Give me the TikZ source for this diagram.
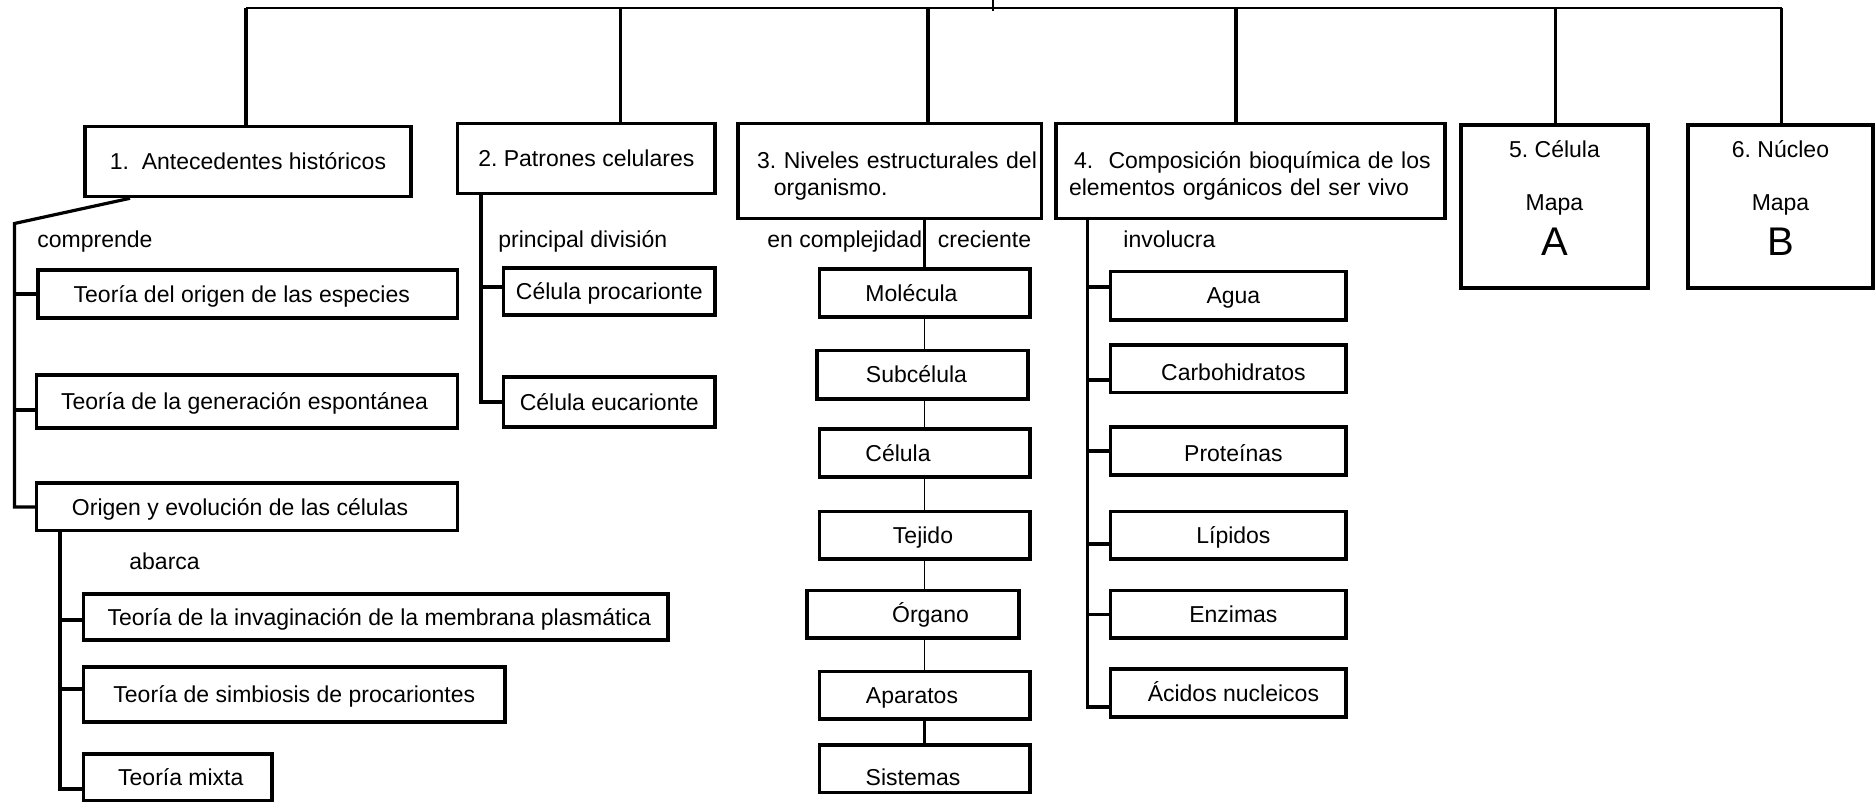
\documentclass[tikz,border=0pt]{standalone}
\usepackage{fontspec}
\setmainfont{Liberation Sans}
\frenchspacing
\newcommand\dfont{\fontsize{11.5pt}{13.5pt}\selectfont}
\newcommand\bigletter{\fontsize{20pt}{22pt}\selectfont}
\begin{document}
\begin{tikzpicture}[x=0.5pt,y=-0.5pt,
  box/.style={draw, line width=1.6pt, inner sep=0pt, font=\dfont, text height=8.2pt, text depth=0pt},
  twoline/.style={draw, line width=1.6pt, inner sep=0pt, font=\dfont, align=left},
  wh/.style 2 args={minimum width=#1*0.5pt, minimum height=#2*0.5pt},
  lbl/.style={inner sep=0pt, anchor=base west, font=\dfont},
  ctr/.style={inner sep=0pt, anchor=base, font=\dfont},
  trunk/.style={line width=1.6pt},
  twig/.style={line width=0.6pt},
  rail/.style={line width=0.7pt}]

\fill[white] (0,0) rectangle (1875,802);
\useasboundingbox (0,0) rectangle (1875,802);

% ---- main topics ----
\node[box, wh={326}{70}] (hist) at (248,161.7) {1.\ \ Antecedentes históricos};
\node[box, wh={257.4}{70}] (patr) at (586.3,158.3) {2. Patrones celulares};
\node[twoline, text width=151.75pt, minimum height=47.5pt] (nivel) at (889.75,170.8)
  {\rule{0pt}{13.6pt}\hspace*{9.5pt}3. Niveles estructurales del\\\hspace*{17.9pt}organismo.};
\node[twoline, text width=194.5pt, minimum height=47.5pt] (comp) at (1250.5,170.8)
  {\rule{0pt}{13.6pt}\hspace*{9pt}4.\ \ Composición bioquímica de los\\\hspace*{6.5pt}elementos orgánicos del ser vivo};
\node[draw, line width=1.6pt, inner sep=0pt, wh={187}{163}] (cel) at (1554.5,206.5) {};
\node[draw, line width=1.6pt, inner sep=0pt, wh={185}{163}] (nuc) at (1780.5,206.5) {};

\node[ctr] (celT) at (1554.5,158) {5. Célula};
\node[ctr] (celM) at (1554.5,211) {Mapa};
\node[ctr, font=\bigletter] (celL) at (1554.5,256) {A};
\node[ctr] (nucT) at (1780.5,158) {6. Núcleo};
\node[ctr] (nucM) at (1780.5,211) {Mapa};
\node[ctr, font=\bigletter] (nucL) at (1780.5,256) {B};

% ---- top rail ----
\coordinate (t1) at (246,8);
\coordinate (t2) at (620.5,8);
\coordinate (t3) at (928,8);
\coordinate (t4) at (1236,8);
\coordinate (t5) at (1555.6,8);
\coordinate (t6) at (1781.5,8);
\coordinate (rootA) at (993,0);
\coordinate (rootB) at (993,11);
\draw[rail] (t1) -- (t6);
\draw[rail] (rootA) -- (rootB);
\foreach \t/\b in {t1/hist,t2/patr,t3/nivel,t4/comp,t5/cel,t6/nuc}
  \draw[trunk] (\t) -- (\t |- \b.north);

% ---- 1. historical background ----
\node[lbl] (lcomp) at (37,247.5) {comprende};
\node[box, wh={419.6}{48}] (esp) at (247.8,294) {\hspace*{-6pt}Teoría del origen de las especies};
\node[box, wh={421}{53}] (gen) at (247.1,401.5) {\hspace*{-2.5pt}Teoría de la generación espontánea};
\node[box, wh={421}{47.7}] (orig) at (247.1,506.9) {\hspace*{-7pt}Origen y evolución de las células};
\node[lbl] (labr) at (129,569.5) {abarca};
\node[box, wh={584.5}{46}] (inv) at (375.8,617) {\hspace*{3.5pt}Teoría de la invaginación de la membrana plasmática};
\node[box, wh={421.5}{55}] (simb) at (294.3,694.5) {Teoría de simbiosis de procariontes};
\node[box, wh={188.5}{47}] (mixta) at (177.8,777.5) {\hspace*{3pt}Teoría mixta};

\coordinate (k1) at (14.5,223.5);
\draw[trunk] ([xshift=-59pt]hist.south) -- (k1) -- (k1 |- orig.west) -- (orig.west);
\draw[trunk] (k1 |- esp.west) -- (esp.west);
\draw[trunk] ([yshift=-4.25pt]gen.west -| k1) -- ([yshift=-4.25pt]gen.west);

\coordinate (k2) at (60,600);
\draw[trunk] (orig.south -| k2) -- ([yshift=-5.75pt]mixta.west -| k2) -- ([yshift=-5.75pt]mixta.west);
\draw[trunk] ([yshift=-1.5pt]inv.west -| k2) -- ([yshift=-1.5pt]inv.west);
\draw[trunk] ([yshift=2.75pt]simb.west -| k2) -- ([yshift=2.75pt]simb.west);

% ---- 2. cell patterns ----
\node[lbl] (ldiv) at (498,247.5) {principal división};
\node[box, wh={211.4}{47}] (proc) at (609.3,291.5) {Célula procarionte};
\node[box, wh={211.4}{50}] (euc) at (609.3,402) {Célula eucarionte};
\coordinate (k3) at (481,300);
\draw[trunk] (patr.south -| k3) -- (k3 |- euc.west) -- (euc.west);
\draw[trunk] ([yshift=2.25pt]proc.west -| k3) -- ([yshift=2.25pt]proc.west);

% ---- 3. structural levels ----
\node[lbl] (lcre) at (767,247.5) {en complejidad\hspace{7.9pt}creciente};
\node[box, wh={210.4}{48}] (mol) at (924.8,293) {\hspace*{-13.3pt}Molécula};
\node[box, wh={211}{48.3}] (subc) at (922.5,374.8) {\hspace*{-6pt}Subcélula};
\node[box, wh={210.4}{48}] (celu) at (924.8,453) {\hspace*{-26.8pt}Célula};
\node[box, wh={210.4}{47.3}] (tej) at (924.8,535.3) {\hspace*{-1.8pt}Tejido};
\node[box, wh={212}{47.3}] (org) at (913,614.3) {\hspace*{17.5pt}Órgano};
\node[box, wh={210.4}{47.3}] (apar) at (924.8,695.3) {\hspace*{-12.8pt}Aparatos};
\node[box, wh={210.4}{47.7}] (sist) at (924.8,768.8) {\hspace*{-11.8pt}\raisebox{-4.35pt}{Sistemas}};
\coordinate (k4) at (924.5,240);
\draw[trunk] (nivel.south -| k4) -- (mol.north -| k4);
\draw[twig] (mol.south -| k4) -- (subc.north -| k4);
\draw[twig] (subc.south -| k4) -- (celu.north -| k4);
\draw[twig] (celu.south -| k4) -- (tej.north -| k4);
\draw[twig] (tej.south -| k4) -- (org.north -| k4);
\draw[twig] (org.south -| k4) -- (apar.north -| k4);
\draw[trunk] (apar.south -| k4) -- (sist.north -| k4);

% ---- 4. biochemical composition ----
\node[lbl] (linv) at (1123,247.5) {involucra};
\node[box, wh={235.3}{48.3}] (agua) at (1228.4,295.8) {\hspace*{5pt}Agua};
\node[box, wh={235.3}{47.7}] (carb) at (1228.4,368.8) {\hspace*{5pt}\raisebox{-1.8pt}{Carbohidratos}};
\node[box, wh={235.3}{48}] (prot) at (1228.4,451) {\hspace*{5pt}\raisebox{-1.1pt}{Proteínas}};
\node[box, wh={235.3}{47.3}] (lip) at (1228.4,535.3) {\hspace*{5pt}Lípidos};
\node[box, wh={235.3}{47.3}] (enz) at (1228.4,614.3) {\hspace*{5pt}Enzimas};
\node[box, wh={235.3}{48}] (acid) at (1228.4,693) {\hspace*{5pt}Ácidos nucleicos};
\coordinate (k5) at (1087.5,400);
\draw[trunk] (comp.south -| k5) -- ([yshift=-7pt]acid.west -| k5) -- ([yshift=-7pt]acid.west);
\draw[trunk] ([yshift=4.4pt]agua.west -| k5) -- ([yshift=4.4pt]agua.west);
\draw[trunk] ([yshift=-5.6pt]carb.west -| k5) -- ([yshift=-5.6pt]carb.west);
\draw[trunk] (prot.west -| k5) -- (prot.west);
\draw[trunk] ([yshift=-4.35pt]lip.west -| k5) -- ([yshift=-4.35pt]lip.west);
\draw[trunk] (enz.west -| k5) -- (enz.west);

\end{tikzpicture}
\end{document}
